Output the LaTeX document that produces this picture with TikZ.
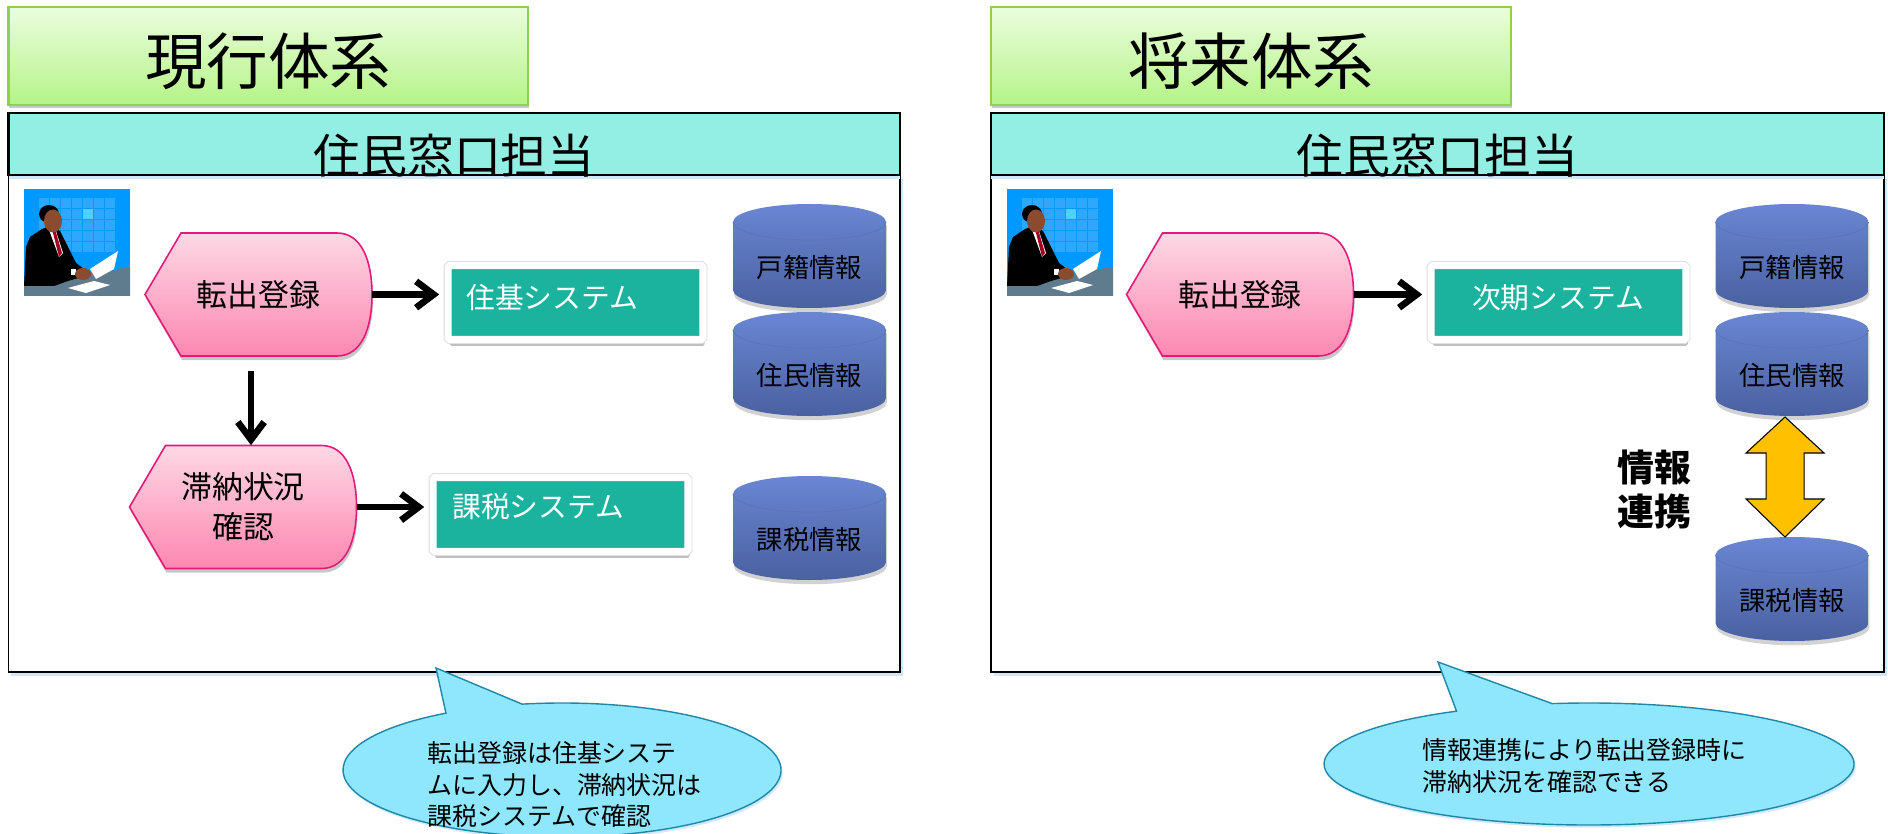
\documentclass[tikz,border=0pt]{standalone}
\usepackage{fontspec}
\setmainfont{Noto Sans CJK JP}
\usetikzlibrary{arrows.meta,shadows}

\definecolor{titlegreen}{HTML}{8FD14F}
\definecolor{titletop}{HTML}{EAFDDD}
\definecolor{titlebot}{HTML}{B5F487}
\definecolor{headcyan}{HTML}{93EEE3}
\definecolor{systeal}{HTML}{1CB39E}
\definecolor{pinktop}{HTML}{FDD8E5}
\definecolor{pinkbot}{HTML}{FD87B0}
\definecolor{pinkline}{HTML}{E6197A}
\definecolor{dbtop}{HTML}{6A86D3}
\definecolor{dbbot}{HTML}{4A61A1}
\definecolor{dbline}{HTML}{5C74BC}
\definecolor{notefill}{HTML}{8EE7FD}
\definecolor{noteline}{HTML}{1F88A9}
\definecolor{linkyellow}{HTML}{FFC000}
\definecolor{glowblue}{HTML}{CFE9FB}
\definecolor{clerkblue}{HTML}{0099FF}
\definecolor{clerkgrid}{HTML}{2EA8FF}
\definecolor{clerklight}{HTML}{4FD0FF}
\definecolor{clerkdesk}{HTML}{5F7B8E}
\definecolor{clerktie}{HTML}{A50021}
\definecolor{clerkskin}{HTML}{8B4B2E}

\tikzset{
  titlebox/.style={draw=titlegreen, line width=1.3pt, top color=titletop, bottom color=titlebot,
    drop shadow={shadow xshift=0.4pt, shadow yshift=-1.8pt, opacity=0.35, fill=black!60}},
  titletxt/.style={inner sep=0, font=\fontsize{35}{40}\selectfont},
  framebody/.style={draw=black, line width=0.9pt, fill=white,
    drop shadow={shadow xshift=1.6pt, shadow yshift=-2.2pt, opacity=1, fill=glowblue}},
  headband/.style={draw=black, line width=1.2pt, fill=headcyan,
    drop shadow={shadow xshift=0pt, shadow yshift=-2pt, opacity=1, fill=glowblue}},
  headtxt/.style={inner sep=0, font=\fontsize{26.7}{30}\selectfont},
  dispshape/.style={draw=pinkline, line width=0.9pt, top color=pinktop, bottom color=pinkbot,
    drop shadow={shadow xshift=0.6pt, shadow yshift=-2.4pt, opacity=0.3, fill=black!70}},
  disptxt/.style={minimum width=4.54cm, minimum height=2.46cm, inner sep=0, align=center,
    font=\fontsize{17.6}{22.7}\selectfont},
  sysbox/.style={draw=white, line width=4pt, fill=systeal, minimum width=5.1cm,
    minimum height=1.48cm, inner sep=0, rounded corners=1pt,
    drop shadow={shadow xshift=1pt, shadow yshift=-3.6pt, opacity=0.35, fill=black!70},
    preaction={draw=black!14, line width=5pt}},
  systxt/.style={inner sep=0, text=white, font=\fontsize{16.4}{20}\selectfont},
  flow/.style={line width=3.8pt, -{Straight Barb[length=10pt, width=15pt]}},
  dbbody/.style={top color=dbtop, bottom color=dbbot,
    drop shadow={shadow xshift=0.5pt, shadow yshift=-2.4pt, opacity=0.25, fill=black!70}},
  dbrim/.style={draw=dbline, line width=0.5pt},
  dbtxt/.style={inner sep=0, font=\fontsize{15}{18}\selectfont},
  note/.style={draw=noteline, line width=0.8pt, fill=notefill,
    drop shadow={shadow xshift=1pt, shadow yshift=-1.5pt, opacity=1, fill=glowblue}},
  notetxt/.style={anchor=west, align=left, inner sep=0, font=\fontsize{14.2}{18.1}\selectfont},
  link/.style={draw=black, line width=0.6pt, fill=linkyellow},
  linktxt/.style={inner sep=0, align=center, font=\bfseries\fontsize{21}{25.5}\selectfont},
  disp/.pic={
    \path[dispshape] (-113.5,0) -- (-77.5,-61.5) -- (78.5,-61.5)
      .. controls (103,-61.5) and (113.5,-34) .. (113.5,0)
      .. controls (113.5,34) and (103,61.5) .. (78.5,61.5)
      -- (-77.5,61.5) -- cycle;
  },
  dbcyl/.pic={
    \path[dbbody] (-76.5,0) -- (-76.5,68) arc[start angle=180, end angle=0, x radius=76.5, y radius=18]
      -- (76.5,0) arc[start angle=0, end angle=-180, x radius=76.5, y radius=18] -- cycle;
    \draw[dbrim] (-76.5,0) arc[start angle=180, end angle=0, x radius=76.5, y radius=18];
  },
  clerk/.pic={
    \fill[clerkblue] (0,0) rectangle (106,107);
    \foreach \c in {0,...,6}
      \foreach \r in {0,...,4}
        \fill[clerkgrid] (15+11*\c,9+11*\r) rectangle ++(10,10);
    \fill[clerklight] (59,20) rectangle ++(10,10);
    \fill[clerkdesk] (0,94) -- (106,78) -- (106,107) -- (0,107) -- cycle;
    \fill[black] (0,97) -- (2,58) -- (6,48) -- (18,40) -- (26,37) -- (36,42) -- (44,58)
      -- (52,74) -- (60,80) -- (58,88) -- (44,92) -- (30,97) -- cycle;
    \fill[white] (24,38) -- (31,39) -- (39,64) -- (35,68) -- cycle;
    \fill[clerktie] (28,40) -- (31,40) -- (38,64) -- (35,68) -- cycle;
    \fill[black] (25,25) ellipse[x radius=10, y radius=9];
    \fill[clerkskin] (29,32) ellipse[x radius=9, y radius=11.5];
    \fill[white] (47,80) rectangle (52,86);
    \fill[clerkskin] (59,85) ellipse[x radius=8, y radius=6];
    \fill[white] (66,80) -- (94,62) -- (90,80) -- (72,90) -- cycle;
    \fill[white] (44,99) -- (70,92) -- (86,96) -- (62,104) -- cycle;
  }
}

\begin{document}
\begin{tikzpicture}[x=0.02cm, y=-0.02cm]
\useasboundingbox (0,0) rectangle (1888,834);

% current system
\draw[titlebox] (8.5,7) rectangle (528,105);
\node[titletxt] (titleL) at (268,61) {現行体系};
\draw[framebody] (8.5,175) rectangle (900,672);
\draw[headband] (8.5,113) rectangle (900,175);
\node[headtxt] (headL) at (454,156) {住民窓口担当};
\pic at (24,189) {clerk};

\pic at (258.5,294.5) {disp};
\node[disptxt] (outL) at (258.5,294.5) {転出登録};
\pic at (243,507) {disp};
\node[disptxt] (taiL) at (243,507) {滞納状況\\確認};

\node[sysbox] (jukiL) at (575.5,302.5) {};
\node[systxt, anchor=west] (jukiTxt) at (466,297) {住基システム};
\node[sysbox] (kazeiL) at (560.5,514.5) {};
\node[systxt, anchor=west] (kazeiTxt) at (452,507) {課税システム};

\draw[flow] (outL.east) -- ([xshift=-3]outL.east -| jukiL.west);
\draw[flow] ([shift={(-7.5,15)}]outL.south) -- ([shift={(8,0)}]taiL.north);
\draw[flow] (taiL.east) -- ([xshift=-3]taiL.east -| kazeiL.west);

\pic at (809.5,222) {dbcyl};
\node[dbtxt] (kosekiL) at (809.5,267) {戸籍情報};
\pic at (809.5,330) {dbcyl};
\node[dbtxt] (juminL) at (809.5,375) {住民情報};
\pic at (809.5,494) {dbcyl};
\node[dbtxt] (kazeiDbL) at (809.5,539) {課税情報};

\draw[note] ([shift={(238:219 and 67)}]562,770) -- (436,668)
  -- ([shift={(259.5:219 and 67)}]562,770)
  arc[start angle=259.5, end angle=598, x radius=219, y radius=67] -- cycle;
\node[notetxt] (noteL) at (427,784.5) {転出登録は住基システ\\ムに入力し、滞納状況は\\課税システムで確認};

% future system
\draw[titlebox] (991,7) rectangle (1511,105);
\node[titletxt] (titleR) at (1251,61) {将来体系};
\draw[framebody] (991,175) rectangle (1884,672);
\draw[headband] (991,113) rectangle (1884,175);
\node[headtxt] (headR) at (1437.5,156) {住民窓口担当};
\pic at (1007,189) {clerk};

\pic at (1240,294.5) {disp};
\node[disptxt] (outR) at (1240,294.5) {転出登録};
\node[sysbox] (jikiR) at (1558.5,302.5) {};
\node[systxt] (jikiTxt) at (1558,298) {次期システム};
\draw[flow] (outR.east) -- ([xshift=-3]outR.east -| jikiR.west);

\pic at (1792,222) {dbcyl};
\node[dbtxt] (kosekiR) at (1792,267) {戸籍情報};
\pic at (1792,330) {dbcyl};
\node[dbtxt] (juminR) at (1792,375) {住民情報};
\pic at (1792,555) {dbcyl};
\node[dbtxt] (kazeiDbR) at (1792,600) {課税情報};

\draw[link] (1785,417) -- (1824,453) -- (1804,453) -- (1804,499) -- (1824,499) -- (1785,537)
  -- (1746,499) -- (1766,499) -- (1766,453) -- (1746,453) -- cycle;
\node[linktxt] (linkTxt) at (1654,489.5) {情報\\連携};

\draw[note] ([shift={(240:265 and 61)}]1589,764) -- (1438,662)
  -- ([shift={(262:265 and 61)}]1589,764)
  arc[start angle=262, end angle=600, x radius=265, y radius=61] -- cycle;
\node[notetxt] (noteR) at (1422,766) {情報連携により転出登録時に\\滞納状況を確認できる};
\end{tikzpicture}
\end{document}
